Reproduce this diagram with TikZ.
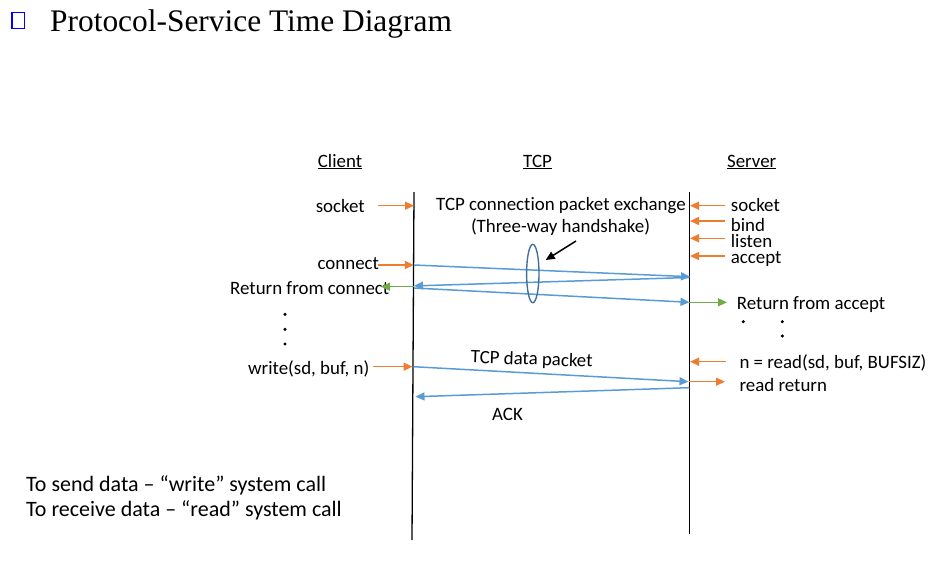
\documentclass[tikz,border=0pt]{standalone}
\usepackage{fontspec}
\setmainfont{Carlito}[Ligatures=NoCommon]
\newfontfamily\titlefont{Liberation Serif}
\usetikzlibrary{arrows.meta,shapes.geometric}
\definecolor{orng}{HTML}{ED7D31}
\definecolor{blu}{HTML}{5B9BD5}
\definecolor{grn}{HTML}{70AD47}
\definecolor{ellc}{HTML}{41719C}
\begin{document}
\begin{tikzpicture}[x=1pt,y=-1pt,
  lbl/.style={inner sep=0pt, font=\fontsize{18.9}{22}\selectfont},
  big/.style={inner sep=0pt, font=\fontsize{22}{26}\selectfont},
  tiparr/.style={-{Triangle[length=9pt,width=8pt]}, line width=1.5pt},
  oarr/.style={tiparr, draw=orng},
  barr/.style={tiparr, draw=blu},
  garr/.style={tiparr, draw=grn},
  lifeline/.style={draw=black, line width=1.3pt},
  dotm/.style={circle, fill=black, inner sep=0pt, minimum size=3.4pt}]
\useasboundingbox (0,0) rectangle (950,576);

% title
\draw[draw=blue, line width=1.8pt] (12,12.5) rectangle (24.5,28.5);
\node[anchor=base west, inner sep=0pt, font=\titlefont\fontsize{31.4}{36}\selectfont] (title) at (50,31) {Protocol-Service Time Diagram};

% headers
\node[lbl, anchor=base] (hclient) at (340,167) {\underline{Client}};
\node[lbl, anchor=base] (htcp) at (537.5,167) {\underline{TCP}};
\node[lbl, anchor=base] (hserver) at (751.7,167) {\underline{Server}};

% lifelines
\coordinate (ctop) at (414,192);
\coordinate (cbot) at (412,540);
\coordinate (stop) at (689.3,192);
\coordinate (sbot) at (689.3,534.3);
\draw[lifeline] (ctop) -- (cbot);
\draw[lifeline] (stop) -- (sbot);

% client labels
\node[lbl, anchor=base] (csocket) at (340.3,212.5) {socket};
\node[lbl, anchor=base] (cconnect) at (348.3,269) {connect};
\node[lbl, anchor=base west] (cret) at (230,294) {Return from connect};
\node[lbl, anchor=base west] (cwrite) at (248,374) {write(sd, buf, n)};

\coordinate (cs1) at (378,205.7);  \coordinate (cs2) at (414,205.7);
\coordinate (cc1) at (377.7,265);  \coordinate (cc2) at (413.8,265);
\coordinate (cr1) at (413.7,286.7);  \coordinate (cr2) at (381,286.7);
\coordinate (cw1) at (373,366.7);  \coordinate (cw2) at (412.5,366.7);
\draw[oarr] (cs1) -- (cs2);
\draw[oarr] (cc1) -- (cc2);
\draw[garr] (cr1) -- (cr2);
\draw[oarr] (cw1) -- (cw2);

% client dots
\node[dotm] (cd1) at (285,314.3) {};
\node[dotm] (cd2) at (285,329.3) {};
\node[dotm] (cd3) at (285,344) {};

% TCP labels
\node[lbl, anchor=base] (tcpx) at (561,210.5) {TCP connection packet exchange};
\node[lbl, anchor=base] (tcph) at (560.5,232) {(Three-way handshake)};
\node[lbl, anchor=center, rotate=-2] (tcpd) at (531.7,360) {TCP data packet};
\node[lbl, anchor=base] (ack) at (507.5,420) {ACK};

% handshake packets
\coordinate (h1a) at (413.8,265);   \coordinate (h1b) at (690,276.7);
\coordinate (h2a) at (689.3,277.5); \coordinate (h2b) at (414,285.9);
\coordinate (h3a) at (413.8,288);   \coordinate (h3b) at (689.5,302.3);
\draw[barr] (h1a) -- (h1b);
\draw[barr] (h2a) -- (h2b);
\draw[barr] (h3a) -- (h3b);

% data packets
\coordinate (d1a) at (413.5,366.7); \coordinate (d1b) at (688.5,381.7);
\coordinate (d2a) at (689.3,387.7); \coordinate (d2b) at (415.5,396.7);
\draw[barr] (d1a) -- (d1b);
\draw[barr] (d2a) -- (d2b);

% ellipse and pointer
\node[draw=ellc, line width=1.4pt, ellipse, inner sep=0pt, minimum width=12.4pt, minimum height=58.4pt] (hsell) at (532.8,273.5) {};
\coordinate (pt1) at (576,241);
\coordinate (pt2) at (545.7,260);
\draw[tiparr, draw=black] (pt1) -- (pt2);

% server labels
\node[lbl, anchor=base west] (ssocket) at (730.7,211) {socket};
\node[lbl, anchor=base west] (sbind) at (730.7,231.5) {bind};
\node[lbl, anchor=base west] (slisten) at (730.7,247.7) {listen};
\node[lbl, anchor=base west] (saccept) at (730.7,263.3) {accept};
\node[lbl, anchor=base west] (sret) at (736.7,309) {Return from accept};
\node[lbl, anchor=base west] (sread) at (739.3,368.3) {n = read(sd, buf, BUFSIZ)};
\node[lbl, anchor=base west] (srr) at (739.3,391.7) {read return};

\coordinate (ss1) at (725,205.7); \coordinate (ss2) at (690,205.7);
\coordinate (sb1) at (725,221);   \coordinate (sb2) at (690,221);
\coordinate (sl1) at (725,238.3); \coordinate (sl2) at (690,238.3);
\coordinate (sa1) at (725,256);   \coordinate (sa2) at (690,256);
\coordinate (sg1) at (689.3,302.3); \coordinate (sg2) at (727,302.3);
\coordinate (sr1) at (726,361.7); \coordinate (sr2) at (690,361.7);
\coordinate (st1) at (689.3,381.7); \coordinate (st2) at (725,381.7);
\draw[oarr] (ss1) -- (ss2);
\draw[oarr] (sb1) -- (sb2);
\draw[oarr] (sl1) -- (sl2);
\draw[oarr] (sa1) -- (sa2);
\draw[garr] (sg1) -- (sg2);
\draw[oarr] (sr1) -- (sr2);
\draw[oarr] (st1) -- (st2);

% server dots
\node[dotm] (sd1) at (743.3,321.7) {};
\node[dotm] (sd2) at (782.3,321.7) {};
\node[dotm] (sd3) at (782.3,336) {};

% bottom notes
\node[big, anchor=base west] (note1) at (26,491) {To send data – “write” system call};
\node[big, anchor=base west] (note2) at (26,516.7) {To receive data – “read” system call};
\end{tikzpicture}
\end{document}
